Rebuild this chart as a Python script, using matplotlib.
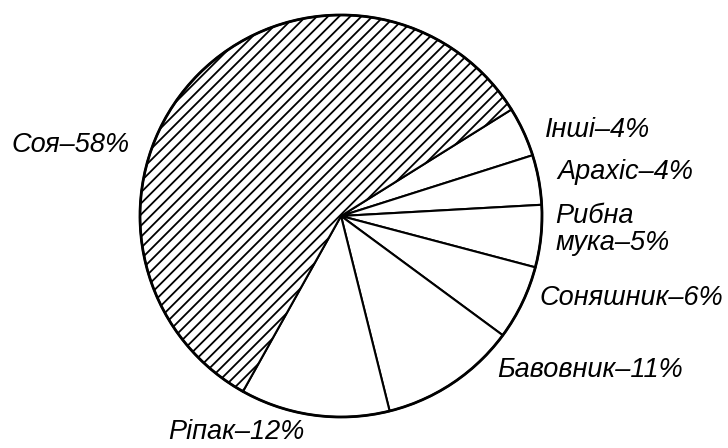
import matplotlib
matplotlib.use("Agg")
import matplotlib.pyplot as plt

# shares of the world protein meal production, %
crops = ["Інші", "Арахіс", "Рибна\nмука", "Соняшник", "Бавовник", "Ріпак", "Соя"]
shares = [4, 4, 5, 6, 11, 12, 58]
hatched = ["Соя"]

# label anchor points (left edge, vertical centre) in pie radius units
label_pos = [(1.015, 0.43), (1.075, 0.22), (1.065, -0.065), (0.99, -0.41),
             (0.776, -0.766), (-0.861, -1.075), (-1.64, 0.355)]

plt.rcParams["font.family"] = ["Liberation Sans", "DejaVu Sans"]
plt.rcParams["hatch.linewidth"] = 1.3

fig = plt.figure(figsize=(7.28, 4.48), dpi=100)
ax = fig.add_axes([0, 0, 1, 1])

wedges, _ = ax.pie(shares, startangle=32, counterclock=False, radius=1.0,
                   colors=["white"] * len(shares),
                   wedgeprops=dict(edgecolor="black", linewidth=1.5))
for w, name in zip(wedges, crops):
    if name in hatched:
        w.set_hatch("///")

# heavier outer rim
ax.add_patch(plt.Circle((0, 0), 1.0, fill=False, edgecolor="black", linewidth=2.0))

for name, val, (x, y) in zip(crops, shares, label_pos):
    ax.text(x, y, f"{name}–{val}%", ha="left", va="center", fontsize=19.5,
            style="italic", linespacing=1.05)

ax.set_xlim(-341 / 201, (728 - 341) / 201)
ax.set_ylim(-(448 - 216) / 201, 216 / 201)
ax.set_aspect("auto")
ax.axis("off")

fig.savefig("out.png", dpi=100, facecolor="white")
